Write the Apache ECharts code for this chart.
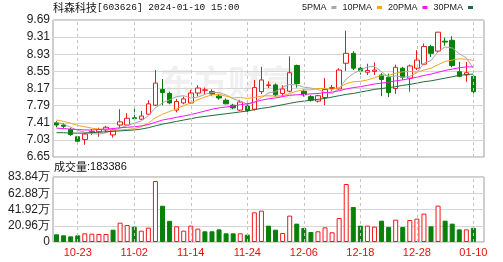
<!DOCTYPE html>
<html><head><meta charset="utf-8">
<script src="https://cdn.jsdelivr.net/npm/echarts/dist/echarts.min.js"></script>
<style>html,body{margin:0;padding:0;background:#fff}#c{width:503px;height:262px}</style>
</head><body><div id="c"></div>
<script>
const dates = ['10-18','10-19','10-20','10-23','10-24','10-25','10-26','10-27','10-30','10-31','11-01','11-02','11-03','11-06','11-07','11-08','11-09','11-10','11-13','11-14','11-15','11-16','11-17','11-20','11-21','11-22','11-23','11-24','11-27','11-28','11-29','11-30','12-01','12-04','12-05','12-06','12-07','12-08','12-11','12-12','12-13','12-14','12-15','12-18','12-19','12-20','12-21','12-22','12-25','12-26','12-27','12-28','12-29','01-02','01-03','01-04','01-05','01-08','01-09','01-10'];
const tickLabels = ['10-23','11-02','11-14','11-24','12-06','12-18','12-28','01-10'];
const openP  = [7.41,7.36,7.26,7.10,7.04,7.20,7.21,7.25,7.14,7.36,7.36,7.52,7.49,7.60,7.80,8.15,8.06,7.69,7.85,7.85,8.07,8.13,8.10,8.00,7.91,7.80,7.69,7.78,7.71,8.10,8.24,8.25,8.06,8.11,8.68,8.11,7.99,7.89,7.97,8.17,8.16,8.73,8.95,8.62,8.53,8.55,8.47,8.42,8.17,8.62,8.40,8.62,8.71,9.10,9.00,9.22,9.24,8.54,8.47,8.44];
const closeP = [7.36,7.33,7.15,7.00,7.16,7.22,7.26,7.31,7.25,7.43,7.51,7.50,7.56,7.83,8.29,8.08,7.85,7.88,7.94,8.07,8.18,8.14,8.05,7.96,7.83,7.74,7.87,7.68,8.19,8.36,8.25,8.03,8.16,8.52,8.28,8.03,7.91,8.01,8.15,8.19,8.58,8.95,8.62,8.56,8.57,8.58,8.37,8.08,8.64,8.42,8.67,8.80,9.10,8.95,9.42,9.20,8.68,8.44,8.52,8.10];
const lowP   = [7.31,7.28,7.12,6.96,6.92,7.14,7.10,7.18,7.08,7.30,7.34,7.46,7.47,7.58,7.78,7.80,7.82,7.64,7.82,7.83,8.00,8.04,8.01,7.92,7.82,7.71,7.67,7.64,7.68,8.05,8.18,7.99,7.99,8.09,8.19,7.99,7.88,7.86,7.80,8.12,8.14,8.56,8.58,8.48,8.47,8.47,8.00,7.98,8.05,8.36,8.10,8.58,8.69,8.87,8.96,9.12,8.64,8.42,8.32,8.06];
const highP  = [7.45,7.40,7.30,7.12,7.18,7.27,7.30,7.34,7.28,7.71,7.62,7.72,7.67,7.91,8.58,8.38,8.10,7.94,7.99,8.14,8.24,8.19,8.15,8.05,7.95,7.83,7.92,7.85,8.36,8.65,8.33,8.28,8.24,8.88,8.70,8.15,8.02,8.03,8.40,8.25,8.62,9.45,9.00,8.68,8.72,8.75,8.51,8.50,8.70,8.65,8.70,9.02,9.17,9.14,9.42,9.30,9.33,8.76,8.76,8.46];
const prevClose = 7.40;
const volume = [9.9,8.6,7.3,8.6,11.2,10.7,10.3,10.3,15.9,24.9,21.9,19.8,14.6,18.5,78.7,46.8,27.3,20.2,14.6,21.1,17.2,13.8,13.8,16.3,11.2,11.2,11.2,9.5,38.3,40.4,21.1,15.9,11.6,34.0,23.7,18.1,12.9,13.8,18.9,12.5,31.0,74.8,45.2,21.1,21.1,19.8,27.5,19.4,28.8,19.4,28.4,30.1,36.6,20.2,46.9,27.5,23.7,16.3,16.3,18.34];
const ma5  = [7.42,7.38,7.31,7.24,7.20,7.17,7.16,7.19,7.24,7.29,7.35,7.40,7.45,7.57,7.74,7.85,7.92,7.99,8.01,7.96,7.98,8.04,8.08,8.08,8.03,7.94,7.89,7.82,7.86,7.97,8.07,8.10,8.20,8.26,8.25,8.20,8.18,8.15,8.08,8.06,8.17,8.38,8.50,8.58,8.65,8.66,8.54,8.43,8.45,8.42,8.44,8.52,8.73,8.79,8.99,9.09,9.07,8.94,8.85,8.62];
const ma10 = [7.47,7.44,7.40,7.35,7.32,7.29,7.27,7.26,7.25,7.25,7.26,7.28,7.32,7.40,7.52,7.60,7.66,7.72,7.79,7.85,7.92,7.98,8.03,8.04,8.00,7.96,7.97,7.95,7.97,8.00,8.01,8.00,8.01,8.06,8.11,8.14,8.14,8.17,8.17,8.15,8.19,8.28,8.32,8.33,8.36,8.41,8.46,8.46,8.51,8.54,8.55,8.53,8.58,8.62,8.70,8.77,8.80,8.83,8.82,8.79];
const ma20 = [7.29,7.28,7.27,7.26,7.25,7.25,7.26,7.27,7.28,7.30,7.31,7.32,7.34,7.37,7.42,7.47,7.50,7.53,7.56,7.59,7.63,7.67,7.71,7.74,7.76,7.78,7.81,7.83,7.87,7.91,7.94,7.96,7.99,8.02,8.03,8.04,8.05,8.06,8.08,8.09,8.12,8.16,8.19,8.21,8.24,8.27,8.29,8.31,8.34,8.36,8.39,8.42,8.46,8.49,8.53,8.57,8.60,8.63,8.65,8.65];
const ma30 = [7.19,7.19,7.18,7.18,7.18,7.19,7.20,7.21,7.22,7.23,7.24,7.25,7.27,7.30,7.34,7.38,7.41,7.44,7.47,7.50,7.53,7.55,7.57,7.59,7.61,7.63,7.65,7.67,7.70,7.73,7.75,7.78,7.81,7.84,7.87,7.89,7.91,7.93,7.95,7.98,8.01,8.04,8.06,8.09,8.12,8.15,8.17,8.19,8.21,8.24,8.26,8.29,8.32,8.34,8.37,8.40,8.43,8.46,8.48,8.49];

const RED = '#f01818', GREEN = '#08800a';
const cats = dates.concat(['']);
const kData = dates.map((d, i) => [openP[i], closeP[i], lowP[i], highP[i]]);
const volData = volume.map((v, i) => {
  const pc = i === 0 ? prevClose : closeP[i - 1];
  const up = closeP[i] >= pc;
  return { value: v, itemStyle: up ? { color: '#fff', borderColor: RED, borderWidth: 1 } : { color: GREEN, borderColor: GREEN, borderWidth: 1 } };
});
const vLines = tickLabels.map(d => ({ xAxis: d }));
const markLine = { symbol: ['none', 'none'], silent: true, label: { show: false }, animation: false,
  lineStyle: { type: [3, 3], color: '#c4c4c4', width: 1 }, data: vLines };
const lbl = { fontFamily: 'Liberation Sans', fontSize: 12, color: '#222' };

const chart = echarts.init(document.getElementById('c'), null, { renderer: 'canvas' });
chart.setOption({
  animation: false,
  backgroundColor: '#fff',
  legend: {
    data: ['5PMA', '10PMA', '20PMA', '30PMA'], right: 30, top: 3, align: 'right', icon: 'rect',
    itemWidth: 5, itemHeight: 3, itemGap: 6, padding: 0,
    textStyle: { fontFamily: 'Liberation Sans', fontSize: 9, color: '#222' }
  },
  graphic: [
    { type: 'text', left: 53, top: 2, z: 100,
      style: { text: '{a|科森科技}{b|[603626] 2024-01-10 15:00}',
        rich: { a: { fontFamily: 'Noto Sans CJK SC', fontSize: 11, fill: '#111' },
                b: { fontFamily: 'Liberation Mono', fontSize: 9.5, fill: '#111' } } } },
    { type: 'text', left: 54, top: 161, z: 100,
      style: { text: '{a|成交量}{b|:183386}',
        rich: { a: { fontFamily: 'Noto Sans CJK SC', fontSize: 11, fill: '#111' },
                b: { fontFamily: 'Liberation Sans', fontSize: 11, fill: '#111' } } } },
    { type: 'text', left: 160, top: 65, z: 0, silent: true,
      style: { text: '东方财富', fontFamily: 'Noto Sans CJK SC', fontSize: 34, fontWeight: 'bold', fill: '#f0f0f0' } }
  ],
  grid: [
    { left: 53, top: 20, width: 431, height: 137, show: true, borderColor: '#9c9c9c', borderWidth: 1, backgroundColor: 'transparent' },
    { left: 53, top: 177, width: 431, height: 65, show: true, borderColor: '#9c9c9c', borderWidth: 1, backgroundColor: 'transparent' }
  ],
  xAxis: [
    { type: 'category', gridIndex: 0, data: cats, boundaryGap: true,
      axisLine: { show: false }, axisTick: { show: false }, axisLabel: { show: false }, splitLine: { show: false } },
    { type: 'category', gridIndex: 1, data: cats, boundaryGap: true,
      axisLine: { show: false }, axisTick: { show: false }, splitLine: { show: false },
      axisLabel: { interval: (i, v) => tickLabels.indexOf(v) >= 0, color: '#e01010', fontFamily: 'Liberation Sans', fontSize: 11, margin: 5 } }
  ],
  yAxis: [
    { type: 'value', gridIndex: 0, min: 6.65, max: 9.69, interval: 0.38, scale: true,
      axisLine: { show: false }, axisTick: { show: false },
      axisLabel: Object.assign({ formatter: v => v.toFixed(2), margin: 3 }, lbl),
      splitLine: { lineStyle: { color: '#d6d6d6', width: 1 } } },
    { type: 'value', gridIndex: 1, min: 0, max: 83.84, interval: 20.96,
      axisLine: { show: false }, axisTick: { show: false },
      axisLabel: Object.assign({ formatter: v => (Math.abs(v) < 1e-6 ? '0' : v.toFixed(2) + '万'), margin: 3 }, lbl),
      splitLine: { lineStyle: { color: '#d6d6d6', width: 1 } } }
  ],
  series: [
    { type: 'candlestick', name: 'K', xAxisIndex: 0, yAxisIndex: 0, data: kData, barWidth: 5, z: 3,
      itemStyle: { color: '#fff', color0: GREEN, borderColor: RED, borderColor0: GREEN, borderWidth: 1 },
      markLine: markLine },
    { type: 'line', name: '5PMA', data: ma5, xAxisIndex: 0, yAxisIndex: 0, showSymbol: false, symbol: 'none', z: 4,
      lineStyle: { width: 1, color: '#a8a8a8' }, itemStyle: { color: '#a8a8a8' } },
    { type: 'line', name: '10PMA', data: ma10, xAxisIndex: 0, yAxisIndex: 0, showSymbol: false, symbol: 'none', z: 4,
      lineStyle: { width: 1, color: '#f0a820' }, itemStyle: { color: '#f0a820' } },
    { type: 'line', name: '20PMA', data: ma20, xAxisIndex: 0, yAxisIndex: 0, showSymbol: false, symbol: 'none', z: 4,
      lineStyle: { width: 1, color: '#ff10ff' }, itemStyle: { color: '#ff10ff' } },
    { type: 'line', name: '30PMA', data: ma30, xAxisIndex: 0, yAxisIndex: 0, showSymbol: false, symbol: 'none', z: 4,
      lineStyle: { width: 1, color: '#1c6e3c' }, itemStyle: { color: '#1c6e3c' } },
    { type: 'bar', name: 'VOL', xAxisIndex: 1, yAxisIndex: 1, data: volData, barWidth: 5, z: 3,
      markLine: markLine }
  ]
});
</script></body></html>
